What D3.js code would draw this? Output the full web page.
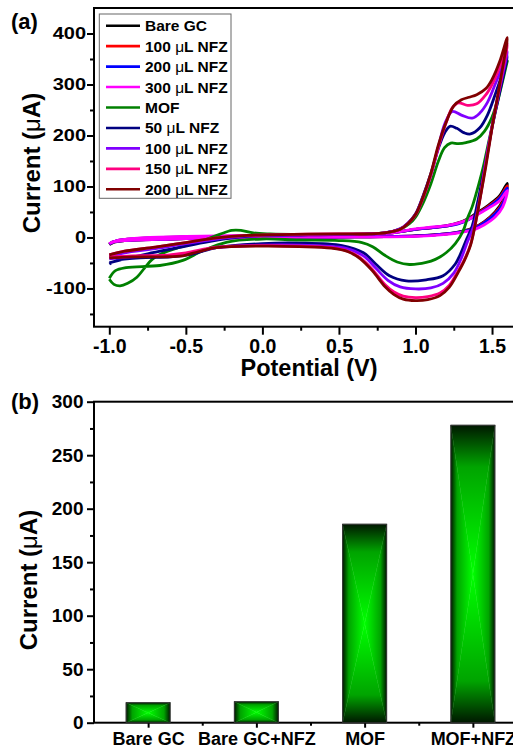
<!DOCTYPE html>
<html>
<head>
<meta charset="utf-8">
<script src="https://cdn.jsdelivr.net/npm/d3@7"></script>
<style>
body { margin: 0; background: #fff; }
svg { display: block; font-family: "Liberation Sans", Arial, sans-serif; }
</style>
</head>
<body>
<script>
// CV curves, [potential V, current uA], forward scan then reverse scan
const bareGC = [[-1.0,-14],[-0.95,-7],[-0.8,-3],[-0.5,0],[0,3],[0.5,5],[0.85,9],[1.0,16],[1.1,19],[1.22,24],[1.32,33],[1.4,48],[1.48,64],[1.55,82],[1.6,106],
    [1.57,72],[1.52,50],[1.45,31],[1.38,19],[1.3,12],[1.2,7],[1.0,3],[0.6,1],[0.2,0],[-0.3,-1],[-0.6,-3],[-0.9,-6],[-0.98,-10],[-1.0,-14]];
const gc100 = [[-1.0,-13],[-0.95,-6],[-0.8,-2],[-0.5,1],[0,3],[0.5,5],[0.85,9],[1.0,16],[1.1,19],[1.22,23],[1.32,32],[1.4,46],[1.48,62],[1.55,79],[1.6,101],
    [1.57,69],[1.52,48],[1.45,30],[1.38,18],[1.3,11],[1.2,7],[1.0,3],[0.6,1],[0.2,0],[-0.3,-1],[-0.6,-3],[-0.9,-6],[-0.98,-9],[-1.0,-13]];
const gc200 = [[-1.0,-13],[-0.95,-6],[-0.8,-2],[-0.5,1],[0,3],[0.5,5],[0.85,9],[1.0,16],[1.1,19],[1.22,23],[1.32,31],[1.4,45],[1.48,60],[1.55,77],[1.6,97],
    [1.57,66],[1.52,46],[1.45,29],[1.38,17],[1.3,11],[1.2,7],[1.0,3],[0.6,1],[0.2,0],[-0.3,-1],[-0.6,-3],[-0.9,-6],[-0.98,-9],[-1.0,-13]];
const gc300 = [[-1.0,-12],[-0.95,-6],[-0.8,-1],[-0.5,2],[0,4],[0.5,6],[0.85,9],[1.0,17],[1.1,20],[1.22,24],[1.32,32],[1.4,44],[1.48,58],[1.55,72],[1.6,92],
    [1.57,60],[1.52,40],[1.45,25],[1.38,15],[1.3,10],[1.2,6],[1.0,2],[0.6,1],[0.2,0],[-0.3,-1],[-0.6,-3],[-0.9,-6],[-0.98,-9],[-1.0,-12]];
const mof = [[-1.0,-82],[-0.97,-92],[-0.93,-95],[-0.88,-90],[-0.82,-78],[-0.77,-60],[-0.72,-43],[-0.66,-32],[-0.54,-19],[-0.39,-6],[-0.28,6],[-0.2,14],[-0.14,14],[-0.06,9],[0.05,7],[0.3,6],[0.5,6],[0.7,7],[0.82,10],[0.9,16],[0.96,27],[1.0,40],[1.05,68],[1.1,105],[1.15,150],[1.19,176],[1.23,185],[1.28,184],[1.33,186],[1.4,193],[1.45,208],[1.5,236],[1.55,285],[1.6,346],
    [1.56,295],[1.52,245],[1.48,190],[1.44,135],[1.4,90],[1.37,60],[1.34,38],[1.31,12],[1.26,-12],[1.2,-30],[1.13,-43],[1.07,-49],[0.96,-53],[0.88,-48],[0.8,-35],[0.72,-18],[0.65,-10],[0.5,-6],[0.24,-5],[0,-3],[-0.23,-9],[-0.39,-26],[-0.52,-45],[-0.67,-55],[-0.89,-59],[-0.96,-65],[-1.0,-80]];
const mof50 = [[-1.0,-50],[-0.9,-42],[-0.75,-32],[-0.55,-20],[-0.35,-8],[-0.1,2],[0.3,5],[0.7,7],[0.8,9],[0.9,17],[0.95,28],[1.0,46],[1.05,82],[1.1,125],[1.15,175],[1.19,205],[1.225,218],[1.27,214],[1.32,205],[1.36,203],[1.42,215],[1.47,240],[1.52,280],[1.56,315],[1.6,355],
    [1.55,285],[1.5,215],[1.46,150],[1.41,75],[1.37,22],[1.33,-6],[1.29,-35],[1.26,-52],[1.18,-75],[1.07,-83],[0.94,-85],[0.83,-75],[0.74,-52],[0.66,-30],[0.52,-16],[0.24,-11],[0,-12],[-0.3,-20],[-0.45,-32],[-0.6,-38],[-0.8,-40],[-0.95,-45],[-1.0,-52]];
const mof100 = [[-1.0,-38],[-0.9,-30],[-0.7,-22],[-0.5,-12],[-0.3,-3],[-0.1,3],[0.2,5],[0.5,6],[0.7,7],[0.8,9],[0.9,17],[0.95,28],[1.0,45],[1.05,80],[1.1,122],[1.15,178],[1.19,222],[1.24,247],[1.3,240],[1.37,234],[1.42,244],[1.47,265],[1.52,300],[1.56,330],[1.6,365],
    [1.55,292],[1.5,218],[1.46,150],[1.42,76],[1.38,22],[1.34,-8],[1.3,-40],[1.25,-70],[1.18,-90],[1.1,-99],[1.0,-101],[0.9,-97],[0.82,-84],[0.74,-60],[0.66,-36],[0.54,-21],[0.24,-15],[0,-15],[-0.3,-20],[-0.5,-32],[-0.65,-36],[-0.85,-38],[-1.0,-42]];
const mof150 = [[-1.0,-34],[-0.9,-27],[-0.7,-19],[-0.5,-10],[-0.3,-1],[-0.1,4],[0.2,6],[0.5,7],[0.7,7],[0.8,9],[0.9,16],[0.95,27],[1.0,44],[1.05,78],[1.1,122],[1.15,178],[1.2,225],[1.24,254],[1.28,264],[1.34,259],[1.4,262],[1.46,280],[1.5,300],[1.55,335],[1.6,380],
    [1.55,296],[1.5,216],[1.46,145],[1.42,74],[1.39,25],[1.36,-13],[1.32,-43],[1.28,-65],[1.22,-94],[1.16,-109],[1.08,-116],[1.0,-118],[0.92,-115],[0.86,-107],[0.8,-92],[0.72,-63],[0.64,-40],[0.56,-27],[0.45,-20],[0.24,-17],[0,-16],[-0.3,-19],[-0.5,-30],[-0.65,-35],[-0.85,-36],[-1.0,-38]];
const mof200 = [[-1.0,-34],[-0.9,-27],[-0.7,-19],[-0.5,-10],[-0.3,-1],[-0.1,4],[0.2,6],[0.5,7],[0.7,7],[0.8,9],[0.9,16],[0.95,27],[1.0,45],[1.05,80],[1.1,125],[1.15,182],[1.2,226],[1.25,258],[1.3,270],[1.35,275],[1.4,280],[1.46,292],[1.5,310],[1.55,345],[1.6,392],
    [1.55,300],[1.5,215],[1.46,140],[1.42,73],[1.39,25],[1.36,-15],[1.32,-45],[1.28,-68],[1.22,-98],[1.16,-114],[1.08,-122],[1.0,-124],[0.92,-121],[0.86,-112],[0.8,-96],[0.72,-66],[0.64,-42],[0.56,-28],[0.45,-21],[0.24,-18],[0,-17],[-0.3,-20],[-0.42,-28],[-0.52,-36],[-0.65,-38],[-0.85,-38],[-1.0,-40]];

const seriesNames = ['Bare GC', '100 μL NFZ', '200 μL NFZ', '300 μL NFZ', 'MOF', '50 μL NFZ', '100 μL NFZ', '150 μL NFZ', '200 μL NFZ'];
const seriesData = [bareGC, gc100, gc200, gc300, mof, mof50, mof100, mof150, mof200];
const seriesColors = ['#000000', '#ff0000', '#0000ff', '#ff00ff', '#008000', '#000080', '#8000ff', '#ff0080', '#800000'];

const potTicks = [-1.0, -0.5, 0.0, 0.5, 1.0, 1.5];
const curTicks = [-100, 0, 100, 200, 300, 400];

// bar chart
const barCats = ['Bare GC', 'Bare GC+NFZ', 'MOF', 'MOF+NFZ'];
const barValues = [18.7, 19.6, 185.5, 278];
const barTicks = [0, 50, 100, 150, 200, 250, 300];

const W = 513, H = 749;
const svg = d3.select('body').append('svg').attr('width', W).attr('height', H);

// green "rectangle" fill made of four triangles
const defs = svg.append('defs');
[['gL', 0, 0, 1, 0], ['gR', 1, 0, 0, 0], ['gT', 0, 0, 0, 1], ['gB', 0, 1, 0, 0]].forEach(([id, x1, y1, x2, y2]) => {
    const lg = defs.append('linearGradient').attr('id', id)
        .attr('x1', x1).attr('y1', y1).attr('x2', x2).attr('y2', y2);
    lg.append('stop').attr('offset', 0).attr('stop-color', '#001800');
    lg.append('stop').attr('offset', 0.28).attr('stop-color', '#00a400');
    lg.append('stop').attr('offset', 1).attr('stop-color', '#00ff00');
});

function styleAxis(g, size) {
    g.select('.domain').remove();
    g.selectAll('line').attr('stroke', '#000').attr('stroke-width', 2);
    g.selectAll('text').attr('fill', '#000').attr('font-weight', 'bold').attr('font-size', size);
}

// ---------- panel (a) ----------
const xA = d3.scaleLinear().domain([-1.1, 1.65]).range([94, 515]);
const yA = d3.scaleLinear().domain([-175, 450]).range([326.7, 8]);

const pa = svg.append('g');

pa.append('g').attr('transform', 'translate(0,326.7)')
    .call(d3.axisBottom(xA).tickValues(d3.range(-0.75, 1.6, 0.5)).tickSize(4).tickFormat(''))
    .call(g => styleAxis(g, 0));
pa.append('g').attr('transform', 'translate(0,326.7)')
    .call(d3.axisBottom(xA).tickValues(potTicks).tickSize(8).tickPadding(4.5).tickFormat(d => d.toFixed(1)))
    .call(g => styleAxis(g, '19.5px'));

pa.append('g').attr('transform', 'translate(94,0)')
    .call(d3.axisLeft(yA).tickValues([-150, -50, 50, 150, 250, 350]).tickSize(4).tickFormat(''))
    .call(g => styleAxis(g, 0));
pa.append('g').attr('transform', 'translate(94,0)')
    .call(d3.axisLeft(yA).tickValues(curTicks).tickSize(7).tickPadding(1).tickFormat(d => String(d)))
    .call(g => styleAxis(g, '20px'))
    .call(g => g.selectAll('text').attr('transform', 'scale(1,0.84)'));

pa.append('rect')
    .attr('x', xA.range()[0]).attr('y', yA.range()[1])
    .attr('width', xA.range()[1] - xA.range()[0])
    .attr('height', yA.range()[0] - yA.range()[1])
    .attr('fill', 'none').attr('stroke', '#000').attr('stroke-width', 2);

const line = d3.line()
    .x(d => xA(d[0]))
    .y(d => yA(d[1]))
    .curve(d3.curveCatmullRom.alpha(0.5));

pa.selectAll('.cv')
    .data(seriesData)
    .enter()
    .append('path')
    .attr('class', 'cv')
    .attr('d', line)
    .attr('fill', 'none')
    .attr('stroke', (d, i) => seriesColors[i])
    .attr('stroke-width', 2.8)
    .attr('stroke-linejoin', 'round');

// legend
const legend = pa.append('g');
legend.append('rect')
    .attr('x', 99.3).attr('y', 14).attr('width', 131.7).attr('height', 184.3)
    .attr('fill', '#fff').attr('stroke', '#666').attr('stroke-width', 1);

const item = legend.selectAll('.item')
    .data(seriesNames)
    .enter()
    .append('g')
    .attr('class', 'item')
    .attr('transform', (d, i) => `translate(0,${25.7 + i * 20.45})`);

item.append('line')
    .attr('x1', 106).attr('x2', 140)
    .attr('stroke', (d, i) => seriesColors[i])
    .attr('stroke-width', 2.6);

item.append('text')
    .attr('x', 145).attr('y', 5.5)
    .attr('font-size', '15.5px').attr('font-weight', 'bold')
    .each(function (d) {
        const t = d3.select(this);
        const parts = d.split('μ');
        t.append('tspan').text(parts[0]);
        if (parts.length > 1) {
            t.append('tspan').attr('font-weight', 'normal').text('μ');
            t.append('tspan').text(parts[1]);
        }
    });

function axisTitle(g, x, y, rotate, size) {
    const t = g.append('text')
        .attr('transform', `translate(${x},${y}) rotate(${rotate})`)
        .attr('text-anchor', 'middle')
        .attr('font-size', size).attr('font-weight', 'bold');
    return t;
}

let t = axisTitle(pa, 40, 163, -90, '24px');
t.append('tspan').text('Current (');
t.append('tspan').attr('font-weight', 'normal').text('μ');
t.append('tspan').text('A)');

axisTitle(pa, 309, 376, 0, '23.5px').text('Potential (V)');

pa.append('text').attr('x', 11).attr('y', 28.5)
    .attr('font-size', '22px').attr('font-weight', 'bold').text('(a)');

// ---------- panel (b) ----------
const xB = d3.scalePoint().domain(barCats).range([94, 527]).padding(0.5);
const xBl = d3.scaleLinear().domain([0.5, 4.5]).range([94, 527]);
const yB = d3.scaleLinear().domain([0, 300]).range([722.7, 401.7]);
const barW = 44;

const pb = svg.append('g');

pb.append('g').attr('transform', 'translate(0,722.7)')
    .call(d3.axisBottom(xBl).tickValues([1.5, 2.5, 3.5]).tickSize(3).tickFormat(''))
    .call(g => styleAxis(g, 0));
pb.append('g').attr('transform', 'translate(0,722.7)')
    .call(d3.axisBottom(xB).tickSize(5).tickPadding(5))
    .call(g => styleAxis(g, '18px'));

pb.append('g').attr('transform', 'translate(94,0)')
    .call(d3.axisLeft(yB).tickValues([25, 75, 125, 175, 225, 275]).tickSize(4).tickFormat(''))
    .call(g => styleAxis(g, 0));
pb.append('g').attr('transform', 'translate(94,0)')
    .call(d3.axisLeft(yB).tickValues(barTicks).tickSize(7).tickPadding(3.5))
    .call(g => styleAxis(g, '19px'));

pb.append('rect')
    .attr('x', 94).attr('y', yB.range()[1])
    .attr('width', 527 - 94)
    .attr('height', yB.range()[0] - yB.range()[1])
    .attr('fill', 'none').attr('stroke', '#000').attr('stroke-width', 2);

const bars = pb.selectAll('.bar')
    .data(barCats.map((c, i) => ({ cat: c, value: barValues[i] })))
    .enter()
    .append('g')
    .attr('class', 'bar');

bars.each(function (d) {
    const g = d3.select(this);
    const x0 = xB(d.cat) - barW / 2, x1 = xB(d.cat) + barW / 2;
    const y0 = yB(d.value), y1 = yB(0);
    const cx = (x0 + x1) / 2, cy = (y0 + y1) / 2;
    const tris = [
        ['gL', [[x0, y0], [x0, y1], [cx, cy]]],
        ['gR', [[x1, y0], [x1, y1], [cx, cy]]],
        ['gT', [[x0, y0], [x1, y0], [cx, cy]]],
        ['gB', [[x0, y1], [x1, y1], [cx, cy]]]
    ];
    tris.forEach(([id, pts]) => {
        g.append('polygon')
            .attr('points', pts.map(p => p.join(',')).join(' '))
            .attr('fill', `url(#${id})`)
            .attr('stroke', `url(#${id})`)
            .attr('stroke-width', 0.4);
    });
    g.append('rect')
        .attr('x', x0).attr('y', y0).attr('width', barW).attr('height', y1 - y0)
        .attr('fill', 'none').attr('stroke', '#333').attr('stroke-width', 1);
});

t = axisTitle(pb, 37, 580, -90, '24px');
t.append('tspan').text('Current (');
t.append('tspan').attr('font-weight', 'normal').text('μ');
t.append('tspan').text('A)');

pb.append('text').attr('x', 11).attr('y', 409)
    .attr('font-size', '22px').attr('font-weight', 'bold').text('(b)');
</script>
</body>
</html>
